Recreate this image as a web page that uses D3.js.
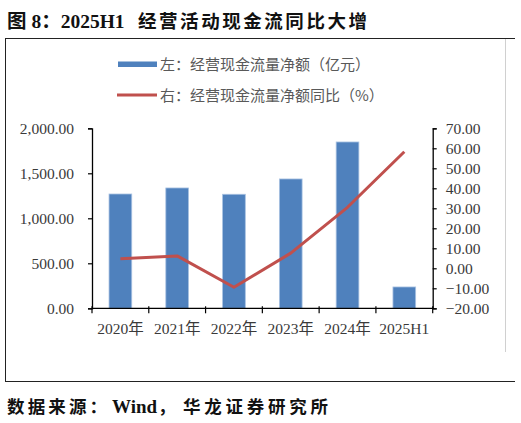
<!DOCTYPE html>
<html><head><meta charset="utf-8">
<script src="https://cdn.jsdelivr.net/npm/d3@7"></script>
<style>
html,body{margin:0;padding:0;background:#fff;}
svg{display:block;}
</style>
</head><body>
<svg id="chart" width="521" height="423"></svg>
<script>
const categories = ["2020年","2021年","2022年","2023年","2024年","2025H1"];
const cashFlow = [1270, 1337, 1267, 1437, 1848, 237];
const yoy = [4.8, 6.2, -9.5, 7.6, 30.5, 58.3];
const leftTicks = [0, 500, 1000, 1500, 2000];
const rightTicks = [-20, -10, 0, 10, 20, 30, 40, 50, 60, 70];
const legendLabels = ["左：经营现金流量净额（亿元）", "右：经营现金流量净额同比（%）"];

const svg = d3.select("#chart");
const serif = "'Liberation Serif','Noto Sans CJK SC',serif";
const cjk = "'Noto Sans CJK SC','Liberation Serif',sans-serif";
const textColor = "#3a3a3a";

// Title
svg.append("text").attr("x", 7).attr("y", 28)
  .attr("font-family", serif).attr("font-weight", "bold").attr("font-size", 19.5)
  .attr("fill", "#111").text("图 8：2025H1");
svg.append("text").attr("x", 138).attr("y", 28)
  .attr("font-family", cjk).attr("font-weight", "bold").attr("font-size", 18.5)
  .attr("fill", "#111").attr("textLength", 229).attr("lengthAdjust", "spacing")
  .text("经营活动现金流同比大增");

// Frame
svg.append("line").attr("x1", 5).attr("x2", 515).attr("y1", 38.5).attr("y2", 38.5).attr("stroke", "#222").attr("stroke-width", 1);
svg.append("line").attr("x1", 5.5).attr("x2", 5.5).attr("y1", 38).attr("y2", 381.5).attr("stroke", "#222").attr("stroke-width", 1);
svg.append("line").attr("x1", 5).attr("x2", 515).attr("y1", 381.5).attr("y2", 381.5).attr("stroke", "#222").attr("stroke-width", 1);
svg.append("line").attr("x1", 505.5).attr("x2", 505.5).attr("y1", 39).attr("y2", 352).attr("stroke", "#d0d0d0").attr("stroke-width", 1);

// Legend
svg.append("rect").attr("x", 118).attr("y", 61.5).attr("width", 39).attr("height", 5.5).attr("fill", "#4f81bd");
svg.append("line").attr("x1", 117).attr("x2", 157).attr("y1", 95).attr("y2", 95).attr("stroke", "#c0504d").attr("stroke-width", 3);
svg.selectAll("text.leg").data(legendLabels).join("text").attr("class", "leg")
  .attr("x", 160).attr("y", (d, i) => 69.5 + i * 31)
  .attr("font-family", cjk).attr("font-size", 15).attr("fill", "#595959")
  .text(d => d);

// Scales
const x0 = 92, x1 = 432.7, yTop = 128.3, yBot = 308.3;
const x = d3.scaleBand().domain(categories).range([x0, x1]).paddingInner(0.6).paddingOuter(0.3);
const yL = d3.scaleLinear().domain([0, 2000]).range([yBot, yTop]);
const yR = d3.scaleLinear().domain([-20, 70]).range([yBot, yTop]);
const xb = d3.scaleLinear().domain([0, categories.length]).range([x0, x1]);

// Bars
svg.append("g").selectAll("rect").data(cashFlow).join("rect")
  .attr("x", (d, i) => x(categories[i]))
  .attr("y", d => yL(d))
  .attr("width", x.bandwidth())
  .attr("height", d => yL(0) - yL(d))
  .attr("fill", "#4f81bd")
  .attr("stroke", "#a9c2e2").attr("stroke-width", 0.8);

// Left axis
const gL = svg.append("g").attr("transform", `translate(${x0},0)`)
  .call(d3.axisLeft(yL).tickValues(leftTicks).tickSize(4).tickPadding(14).tickFormat(d3.format(",.2f")));
gL.select(".domain").attr("stroke", "#000").attr("stroke-width", 1.3);
gL.selectAll(".tick line").attr("stroke", "#000").attr("stroke-width", 1.2);
gL.selectAll("text").attr("font-family", serif).attr("font-size", 15.5).attr("fill", textColor);

// Right axis
const gR = svg.append("g").attr("transform", `translate(${x1},0)`)
  .call(d3.axisRight(yR).tickValues(rightTicks).tickSize(4).tickPadding(9).tickFormat(d3.format(".2f")));
gR.select(".domain").attr("stroke", "#000").attr("stroke-width", 1.3);
gR.selectAll(".tick line").attr("stroke", "#000").attr("stroke-width", 1.2);
gR.selectAll("text").attr("font-family", serif).attr("font-size", 15.5).attr("fill", textColor);

// Bottom axis (labels)
const gB = svg.append("g").attr("transform", `translate(0,${yBot})`)
  .call(d3.axisBottom(x).tickSize(0).tickPadding(15));
gB.select(".domain").remove();
gB.selectAll("text").attr("font-family", serif).attr("font-size", 15.5).attr("fill", textColor);

// Bottom axis line and boundary ticks
svg.append("line").attr("x1", x0).attr("x2", x1).attr("y1", yBot).attr("y2", yBot).attr("stroke", "#000").attr("stroke-width", 1.3);
svg.append("g").selectAll("line").data(d3.range(categories.length + 1)).join("line")
  .attr("x1", d => xb(d)).attr("x2", d => xb(d))
  .attr("y1", yBot - 2).attr("y2", yBot + 5)
  .attr("stroke", "#000").attr("stroke-width", 1.2);

// Line
const line = d3.line()
  .x((d, i) => x(categories[i]) + x.bandwidth() / 2)
  .y(d => yR(d));
svg.append("path").datum(yoy).attr("d", line)
  .attr("fill", "none").attr("stroke", "#c0504d").attr("stroke-width", 3).attr("stroke-linejoin", "round");

// Source
svg.append("text").attr("x", 7).attr("y", 413)
  .attr("font-family", cjk).attr("font-weight", "bold").attr("font-size", 17.5)
  .attr("fill", "#111").attr("textLength", 100).attr("lengthAdjust", "spacing")
  .text("数据来源：");
svg.append("text").attr("x", 112).attr("y", 413)
  .attr("font-family", serif).attr("font-weight", "bold").attr("font-size", 19)
  .attr("fill", "#111").text("Wind");
svg.append("text").attr("x", 158).attr("y", 413)
  .attr("font-family", cjk).attr("font-weight", "bold").attr("font-size", 17.5)
  .attr("fill", "#111").text("，");
svg.append("text").attr("x", 183).attr("y", 413)
  .attr("font-family", cjk).attr("font-weight", "bold").attr("font-size", 17.5)
  .attr("fill", "#111").attr("textLength", 145).attr("lengthAdjust", "spacing")
  .text("华龙证券研究所");
</script>
</body></html>
